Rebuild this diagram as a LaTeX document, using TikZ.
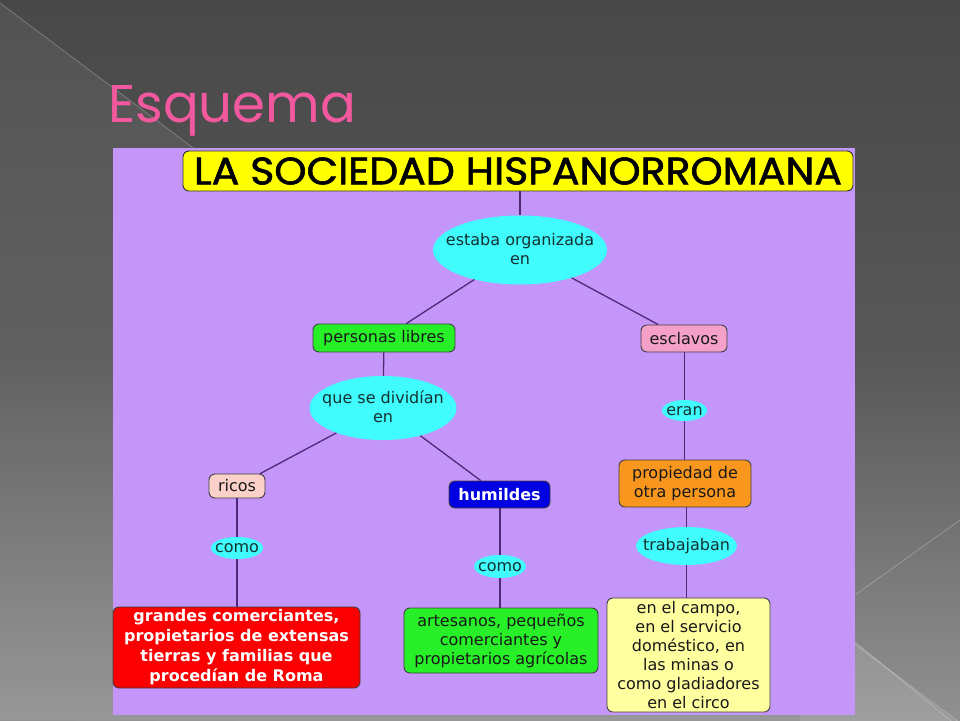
\documentclass[tikz,border=0pt]{standalone}
\usepackage{fontspec}
\usepackage{graphicx}
\setmainfont{DejaVu Sans}
\newfontfamily\titlefont{Poppins}
\newfontfamily\headfont[FakeBold=1.5]{Poppins}
\usetikzlibrary{shapes.geometric}
\definecolor{panel}{RGB}{196,150,250}
\definecolor{cyanell}{RGB}{64,252,252}
\definecolor{linkc}{RGB}{80,40,120}
\definecolor{titlepink}{RGB}{242,88,158}
\definecolor{yellowbox}{RGB}{255,255,0}
\definecolor{greenbox}{RGB}{40,240,40}
\definecolor{pinkbox}{RGB}{245,160,200}
\definecolor{ricosbox}{RGB}{250,208,200}
\definecolor{bluebox}{RGB}{0,0,225}
\definecolor{redbox}{RGB}{250,0,0}
\definecolor{orangebox}{RGB}{248,150,30}
\definecolor{paleyellow}{RGB}{255,255,160}
\definecolor{txtdark}{RGB}{20,50,50}
\newcommand{\elltext}[1]{\raisebox{-0.68em}{\smash{\makebox[0pt]{\begin{tabular}{@{}c@{}}#1\end{tabular}}}}}
\tikzset{
  box/.style={draw=black!75, line width=0.9pt, rounded corners=6pt, align=center, font=\fontsize{16}{19}\selectfont, text=black!90, inner sep=0pt},
  ell/.style={ellipse, fill=cyanell, draw=none, inner sep=0pt, font=\fontsize{16}{19}\selectfont, text=txtdark},
  link/.style={draw=linkc, line width=1.3pt}
}
\begin{document}
\begin{tikzpicture}[x=1pt,y=-1pt]
\useasboundingbox (0,0) rectangle (960,720);
% background
\shade[top color={rgb,255:red,72;green,72;blue,72}, bottom color={rgb,255:red,145;green,145;blue,145}, middle color={rgb,255:red,88;green,88;blue,88}] (0,0) rectangle (960,720);
\fill[white, opacity=0.06] (0,3) -- (960,723) -- (0,720) -- cycle;
\draw[white, opacity=0.25, line width=0.8pt] (0,3) -- (960,723);
\draw[white, opacity=0.25, line width=0.8pt] (960,520) -- (700,706);
\fill[white, opacity=0.08] (800,597) -- (960,728) -- (800,728) -- cycle;
\draw[white, opacity=0.25, line width=0.8pt] (800,597) -- (960,728);
% panel
\fill[panel] (113,148) rectangle (855,715);
% title
\node[anchor=base west, inner sep=0pt, text=titlepink] (title) at (108,122) {\resizebox{248pt}{!}{\titlefont Esquema}};
% heading box
\node[draw=black!80, line width=0.9pt, fill=yellowbox, rounded corners=6pt, minimum width=670pt, minimum height=40pt, inner sep=0pt] (head) at (518,171) {\resizebox{648pt}{27pt}{\headfont LA SOCIEDAD HISPANORROMANA}};
% nodes
\node[ell, minimum width=174pt, minimum height=69pt] (org) at (520,250) {\elltext{estaba organizada\\en}};
\node[box, fill=greenbox, minimum width=142pt, minimum height=28pt] (libres) at (384,338) {personas libres};
\node[box, fill=pinkbox, minimum width=86pt, minimum height=27pt] (escl) at (684,338.5) {esclavos};
\node[ell, minimum width=147pt, minimum height=64pt] (div) at (383,408) {\elltext{que se dividían\\en}};
\node[box, fill=ricosbox, minimum width=56pt, minimum height=24pt] (ricos) at (237,486) {ricos};
\node[box, fill=bluebox, text=white, font=\fontsize{16}{19}\selectfont\bfseries, minimum width=101pt, minimum height=27pt] (hum) at (499.5,494.5) {humildes};
\node[ell, minimum width=52pt, minimum height=22pt] (como1) at (237,548) {\elltext{como}};
\node[ell, minimum width=52pt, minimum height=23pt] (como2) at (500,566.5) {\elltext{como}};
\node[box, fill=redbox, text=white, font=\fontsize{16}{20}\selectfont\bfseries, minimum width=247pt, minimum height=81pt] (rich) at (236.5,647.5) {grandes comerciantes,\\propietarios de extensas\\tierras y familias que\\procedían de Roma};
\node[box, fill=greenbox, minimum width=194pt, minimum height=65pt] (art) at (501,640.5) {artesanos, pequeños\\comerciantes y\\propietarios agrícolas};
\node[ell, minimum width=45pt, minimum height=21pt] (eran) at (684.5,410.5) {\elltext{eran}};
\node[box, fill=orangebox, minimum width=132pt, minimum height=47pt] (prop) at (685,483.5) {propiedad de\\otra persona};
\node[ell, minimum width=101pt, minimum height=38pt] (trab) at (686.5,546) {\elltext{trabajaban}};
\node[box, fill=paleyellow, font=\fontsize{16}{19}\selectfont, minimum width=163pt, minimum height=114pt] (campo) at (688.5,655) {en el campo,\\en el servicio\\doméstico, en\\las minas o\\como gladiadores\\en el circo};
% links
\draw[link] (head.south -| org.north) -- (org.north);
\draw[link] (org) -- (libres);
\draw[link] (org) -- (escl);
\draw[link] (libres) -- (div);
\draw[link] (div) -- (ricos);
\draw[link] (div) -- (hum);
\draw[link] (ricos) -- (como1);
\draw[link] (como1) -- (rich.north -| como1.south);
\draw[link] (hum.south -| como2.north) -- (como2);
\draw[link] (como2) -- (art.north -| como2.south);
\draw[link] (escl.south -| eran.north) -- (eran);
\draw[link] (eran) -- (prop.north -| eran.south);
\draw[link] (prop.south -| trab.north) -- (trab);
\draw[link] (trab.south) -- (campo.north -| trab.south);
\end{tikzpicture}
\end{document}
